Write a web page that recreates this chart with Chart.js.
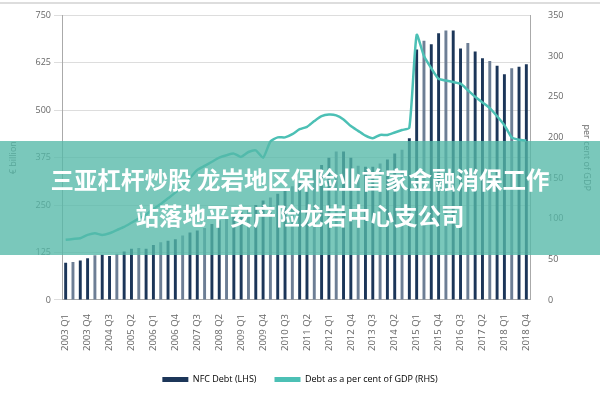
<!DOCTYPE html>
<html><head><meta charset="utf-8">
<script src="https://cdn.jsdelivr.net/npm/chart.js@4/dist/chart.umd.min.js"></script>
<style>
body{margin:0;background:#fff;}
#wrap{position:relative;width:600px;height:400px;}
#banner{position:absolute;left:0;top:141px;width:600px;height:114px;background:rgba(84,184,168,0.78);
 color:#fff;font-family:"Noto Sans CJK SC";font-weight:bold;font-size:23.5px;line-height:36px;text-align:center;padding-top:20px;box-sizing:border-box;}
#topline{position:absolute;left:0;top:2px;width:600px;height:2px;background:#ddd;}
</style></head><body>
<div id="wrap">
<canvas id="c" width="600" height="400"></canvas>
<div id="topline"></div>
<div id="banner">三亚杠杆炒股 龙岩地区保险业首家金融消保工作<br>站落地平安产险龙岩中心支公司</div>
</div>
<script>
// quarters 2003 Q1 .. 2018 Q4
var quarters = [];
for (var y = 2003; y <= 2018; y++) { for (var q = 1; q <= 4; q++) quarters.push(y + " Q" + q); }

var nfc_debt = [98,100,104,110,118,119,116,122,128,135,137,135,145,152,156,160,
  170,178,183,190,200,210,218,225,232,240,250,262,270,280,290,300,
  312,325,343,356,375,391,391,375,354,351,351,360,370,386,396,426,
  660,683,674,703,710,710,663,677,655,637,630,617,595,611,615,621];

var debt_gdp = [74,75,76,80,82,80,82,86,90,95,100,105,112,118,125,132,
  140,150,160,165,170,175,178,180,176,182,184,175,195,200,200,204,
  210,213,220,226,228,227,222,214,208,202,199,203,203,206,209,212,
  326,300,285,272,270,268,266,258,250,243,236,226,215,200,197,196];

var bar_colors = nfc_debt.map(function(v, i){ return i % 3 == 1 ? "#6d7e95" : "#1c3659"; });

var ctx = document.getElementById("c").getContext("2d");
new Chart(ctx, {
  data: {
    labels: quarters,
    datasets: [
      {type:"line", label:"Debt as a per cent of GDP (RHS)", data:debt_gdp, yAxisID:"y2",
       borderColor:"#4cc0b5", backgroundColor:"#4cc0b5", borderWidth:2.5, pointRadius:0, tension:0.2, order:0},
      {type:"bar", label:"NFC Debt (LHS)", data:nfc_debt, yAxisID:"y",
       backgroundColor:bar_colors, barPercentage:0.4, categoryPercentage:1, order:1}
    ]
  },
  options: {
    responsive:false, animation:false,
    layout:{padding:{top:10,left:4,right:4,bottom:6}},
    plugins:{
      legend:{position:"bottom", labels:{font:{family:"Open Sans",size:9}, color:"#666", boxWidth:26, boxHeight:5, padding:18,
        generateLabels:function(ch){ return [
          {text:"NFC Debt (LHS)", fillStyle:"#1c3659", strokeStyle:"#1c3659", lineWidth:0, datasetIndex:1},
          {text:"Debt as a per cent of GDP (RHS)", fillStyle:"#4cc0b5", strokeStyle:"#4cc0b5", lineWidth:0, datasetIndex:0}]; }}},
      tooltip:{enabled:false}
    },
    scales:{
      x:{grid:{display:false}, border:{color:"#aaa"},
         ticks:{autoSkip:false, maxRotation:90, minRotation:90, color:"#666", font:{family:"Open Sans",size:9.5}, padding:6,
           callback:function(v,i){ return i % 3 == 0 ? quarters[i] : ""; }}},
      y:{position:"left", min:0, max:750, ticks:{stepSize:125, color:"#666", font:{family:"Open Sans",size:9}},
         grid:{color:"#ddd"}, border:{color:"#aaa"},
         title:{display:true, text:"€ billion", color:"#666", font:{family:"Open Sans",size:9}},
         afterFit:function(s){ s.width = 58; }},
      y2:{position:"right", min:0, max:350, ticks:{stepSize:50, color:"#666", font:{family:"Open Sans",size:9}, padding:10},
         grid:{display:false}, border:{color:"#aaa"},
         title:{display:true, text:"per cent of GDP", color:"#666", font:{family:"Open Sans",size:9}},
         afterFit:function(s){ s.width = 66; }}
    }
  }
});
</script>
</body></html>
